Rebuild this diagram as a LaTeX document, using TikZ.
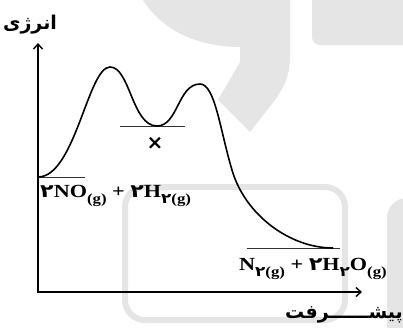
\documentclass[tikz,border=0pt]{standalone}
\usepackage{fontspec}
\setmainfont{Liberation Serif}
\newfontfamily\arabicfont[Script=Arabic]{DejaVu Sans}
\TeXXeTstate=1
\usetikzlibrary{arrows.meta}
\newcommand\fadig{{\arabicfont ۲}}
\newcommand\lowsub[1]{\raisebox{-0.35em}{\fontsize{14}{14}\selectfont #1}}
\newcommand\wide[1]{\scalebox{1.2}[1]{#1}}
\tikzset{
 axisline/.style={line width=1.4pt, {Straight Barb[length=5pt,width=9pt]}-{Straight Barb[length=5pt,width=9pt]}},
 level/.style={line width=1pt, black!80},
 curveline/.style={line width=1.6pt},
 wm/.style={fill=black!10, draw=none},
 wmline/.style={draw=black!10, line width=6pt, rounded corners=20pt},
 chem/.style={font=\bfseries\fontsize{18.5}{20}\selectfont, inner sep=0pt},
 fa/.style={font=\arabicfont\bfseries\fontsize{19}{20}\selectfont, inner sep=0pt},
}
\begin{document}
\begin{tikzpicture}[x=1pt,y=-1pt]
\useasboundingbox (0,0) rectangle (403,327);
% watermark
\fill[wm] (143,0) .. controls (165,35) and (205,47) .. (240,47) -- (240,62) -- (218,100) -- (250,132) -- (275,100) .. controls (288,82) and (290,70) .. (290,55) -- (290,0) -- cycle;
\fill[wm, rounded corners=8pt] (312,-10) rectangle (415,45);
\fill[wm, rounded corners=20pt] (387,198) rectangle (430,345);
\draw[wmline] (125,187) rectangle (345,320);
% axes
\coordinate (ytop) at (38,43);
\coordinate (o) at (38,292);
\coordinate (xend) at (362,292);
\draw[axisline] (ytop) -- (o) -- (xend);
% levels
\coordinate (r1) at (38,177); \coordinate (r2) at (85,177);
\coordinate (i1) at (120,126); \coordinate (i2) at (185,126);
\coordinate (p1) at (247,248); \coordinate (p2) at (340,248);
\draw[level] (r1) -- (r2);
\draw[level] (i1) -- (i2);
\draw[level] (p1) -- (p2);
% curve
\coordinate (pk1) at (110,67);
\coordinate (vl) at (157,126);
\coordinate (pk2) at (200,84);
\coordinate (md) at (232,170);
\coordinate (pe) at (333,248);
\draw[curveline] (r1) .. controls (75,177) and (88,67) .. (pk1)
  .. controls (130,67) and (132,126) .. (vl)
  .. controls (178,126) and (178,84) .. (pk2)
  .. controls (215,84) and (220,130) .. (md)
  .. controls (245,215) and (290,248) .. (pe);
% labels
\node[chem, anchor=base west] (react) at (40,197) {\wide{\fadig NO\lowsub{(g)} + \fadig H\lowsub{\fadig(g)}}};
\node[chem, anchor=base west] (prod) at (239,270) {\wide{N\lowsub{\fadig(g)} + \fadig H\lowsub{\fadig}O\lowsub{(g)}}};
\node[font=\arabicfont\bfseries\fontsize{20}{20}\selectfont, inner sep=0pt] (xmark) at (155,143) {×};
\node[fa] (ylab) at (30,25) {\beginR انرژی\endR};
\node[fa, anchor=east] (xlab) at (403,315) {\beginR پیشــــــرفت\endR};
\end{tikzpicture}
\end{document}
